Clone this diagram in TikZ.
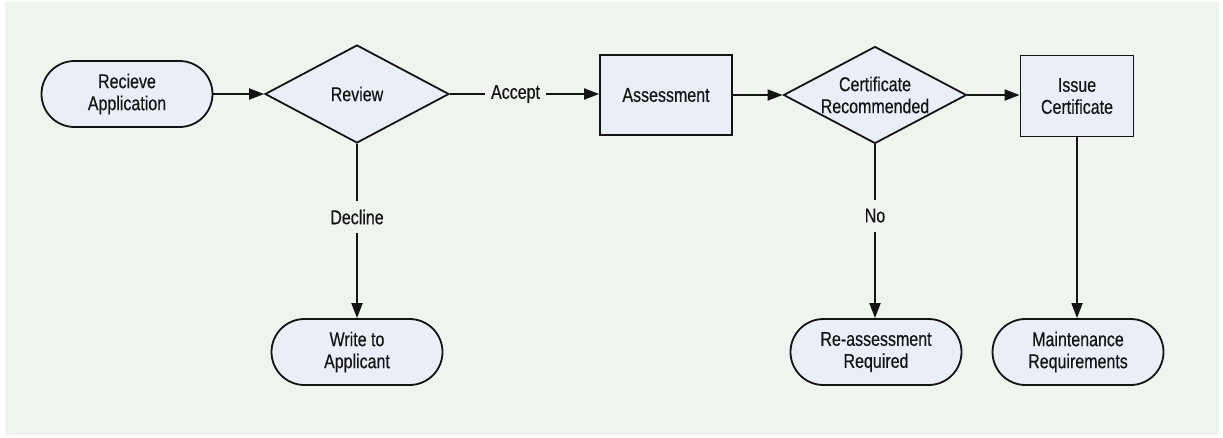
\documentclass[tikz,border=0pt]{standalone}
\usepackage{fontspec}
\setmainfont{Liberation Sans}[FakeStretch=0.8,FakeBold=0.4]
\usetikzlibrary{shapes.geometric,arrows.meta}
\definecolor{bgc}{RGB}{239,244,238}
\definecolor{boxc}{RGB}{233,238,247}
\definecolor{inkc}{RGB}{20,20,20}
\begin{document}
\begin{tikzpicture}[x=1pt,y=-1pt,
  every node/.style={font=\fontsize{20}{22}\selectfont, text=inkc, align=center},
  stadium/.style={draw=inkc, fill=boxc, line width=1.8pt, rounded corners=33pt, minimum width=171pt, minimum height=66pt, inner sep=0pt},
  procbox/.style={draw=inkc, fill=boxc, line width=1.8pt, inner sep=0pt},
  decision/.style={draw=inkc, fill=boxc, line width=1.8pt, diamond, inner sep=0pt, shape aspect=1.88, minimum width=184pt, minimum height=98pt},
  conn/.style={draw=inkc, line width=1.8pt, -{Triangle[length=15pt,width=11pt]}},
  lbl/.style={fill=bgc, inner xsep=6pt, inner ysep=9pt}
]
\useasboundingbox (0,0) rectangle (1223,437);
\fill[bgc] (5,2) rectangle (1219,435);

\node[stadium] (rec) at (127,94) {Recieve\\Application};
\node[decision] (rev) at (357,94) {Review};
\node[procbox, minimum width=132pt, minimum height=80pt] (ass) at (666,95) {Assessment};
\node[decision, minimum width=183pt, minimum height=97pt] (cert) at (875,95) {Certificate\\Recommended};
\node[procbox, minimum width=113pt, minimum height=81pt] (iss) at (1077,96) {Issue\\Certificate};
\node[stadium] (wri) at (357,352) {Write to\\Applicant};
\node[stadium] (rea) at (876,352) {Re-assessment\\Required};
\node[stadium] (mai) at (1078,352) {Maintenance\\Requirements};

\draw[conn] (rec) -- (rev);
\draw[conn] (rev.east) -- node[lbl, pos=0.44] {Accept} (rev.east -| ass.west);
\draw[conn] (ass) -- (cert);
\draw[conn] (cert.east) -- (cert.east -| iss.west);
\draw[conn] (rev.south) -- node[lbl, pos=0.42] {Decline} (wri.north);
\draw[conn] (cert.south) -- node[lbl, pos=0.41] {No} (cert.south |- rea.north);
\draw[conn] (iss.south) -- (iss.south |- mai.north);
\end{tikzpicture}
\end{document}
